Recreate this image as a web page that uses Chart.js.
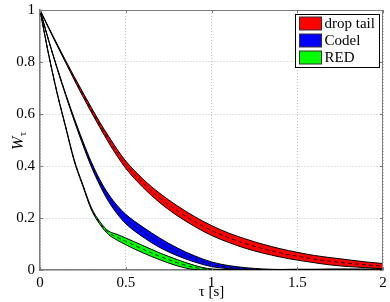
<!DOCTYPE html>
<html>
<head>
<meta charset="utf-8">
<script src="https://cdn.jsdelivr.net/npm/chart.js@4.4.1/dist/chart.umd.min.js"></script>
<style>
  html, body { margin: 0; padding: 0; background: #fff; }
  #wrap { width: 390px; height: 302px; position: relative; }
</style>
</head>
<body>
<div id="wrap"><canvas id="fig" width="390" height="302"></canvas></div>
<script>
// tau [s] 샘플 위치
const tau = [0, 0.05, 0.1, 0.15, 0.2, 0.25, 0.3, 0.35, 0.4, 0.45, 0.5, 0.6, 0.7, 0.8, 0.9, 1.0, 1.1, 1.2, 1.3, 1.4, 1.5, 1.6, 1.7, 1.8, 1.9, 2.0];

// drop tail
const dropTailUpper = [1, 0.934, 0.869, 0.805, 0.743, 0.683, 0.624, 0.567, 0.514, 0.464, 0.419, 0.35, 0.294, 0.247, 0.206, 0.171, 0.142, 0.119, 0.099, 0.082, 0.068, 0.056, 0.047, 0.039, 0.031, 0.025];
const dropTailMean  = [1, 0.932, 0.866, 0.801, 0.737, 0.675, 0.615, 0.557, 0.502, 0.451, 0.405, 0.334, 0.276, 0.228, 0.187, 0.152, 0.124, 0.101, 0.082, 0.066, 0.053, 0.042, 0.033, 0.026, 0.02, 0.015];
const dropTailLower = [1, 0.93, 0.863, 0.797, 0.731, 0.667, 0.606, 0.547, 0.49, 0.438, 0.391, 0.318, 0.258, 0.209, 0.168, 0.133, 0.106, 0.083, 0.065, 0.05, 0.038, 0.028, 0.019, 0.013, 0.009, 0.005];

// Codel
const codelUpper = [1, 0.885, 0.778, 0.677, 0.583, 0.495, 0.414, 0.346, 0.291, 0.248, 0.214, 0.165, 0.122, 0.085, 0.055, 0.031, 0.017, 0.009, 0.004, 0.002, 0.001, 0.001, 0, 0, 0, 0];
const codelMean  = [1, 0.884, 0.776, 0.674, 0.578, 0.488, 0.405, 0.335, 0.277, 0.232, 0.196, 0.146, 0.104, 0.07, 0.043, 0.022, 0.011, 0.005, 0.002, 0.001, 0, 0, 0, 0, 0, 0];
const codelLower = [1, 0.883, 0.774, 0.671, 0.573, 0.481, 0.396, 0.324, 0.263, 0.216, 0.178, 0.127, 0.086, 0.055, 0.031, 0.013, 0.005, 0.001, 0, 0, 0, 0, 0, 0, 0, 0];

// RED
const redUpper = [1, 0.831, 0.682, 0.551, 0.423, 0.328, 0.239, 0.185, 0.15, 0.137, 0.123, 0.094, 0.065, 0.04, 0.018, 0.004, 0.002, 0.001, 0.001, 0.002, 0.003, 0.003, 0.004, 0.004, 0.004, 0.004];
const redMean  = [1, 0.83, 0.68, 0.549, 0.42, 0.325, 0.235, 0.18, 0.143, 0.126, 0.11, 0.08, 0.052, 0.028, 0.01, 0.002, 0.001, 0, 0, 0.001, 0.001, 0.001, 0.002, 0.002, 0.002, 0.002];
const redLower = [1, 0.829, 0.678, 0.547, 0.417, 0.322, 0.231, 0.175, 0.136, 0.115, 0.097, 0.066, 0.039, 0.016, 0.002, 0, 0, 0, 0, 0, 0, 0, 0, 0, 0, 0];

const seriesNames = ['drop tail', 'Codel', 'RED'];
const seriesColors = ['#ff0000', '#0000ff', '#00ff00'];
const xTicks = [0, 0.5, 1, 1.5, 2];
const yTicks = [0, 0.2, 0.4, 0.6, 0.8, 1];

const serif = "'Liberation Serif', 'DejaVu Serif', serif";

function pts(ys) {
    return tau.map((t, i) => ({ x: t, y: ys[i] }));
}

// 밴드 하나 = 위/아래 경계선 + 점선 평균
function band(upper, mean, lower, color) {
    const common = { pointRadius: 0, borderColor: '#000', cubicInterpolationMode: 'monotone' };
    return [
        { ...common, data: pts(upper), borderWidth: 1, backgroundColor: color, fill: '+1', order: 3 },
        { ...common, data: pts(lower), borderWidth: 1, fill: false, order: 2 },
        { ...common, data: pts(mean), borderWidth: 0.9, borderDash: [4, 3], fill: false, order: 1 }
    ];
}

// 박스 테두리, 안쪽 눈금, 범례, 축 제목
const frame = {
    id: 'frame',
    afterDraw(chart) {
        const { ctx, chartArea: a, scales } = chart;
        ctx.save();
        ctx.strokeStyle = '#7a7a7a';
        ctx.lineWidth = 1;
        ctx.beginPath();
        ctx.moveTo(a.left, a.top + 0.5);
        ctx.lineTo(a.right - 0.5, a.top + 0.5);
        ctx.lineTo(a.right - 0.5, a.bottom);
        ctx.stroke();
        ctx.beginPath();
        xTicks.forEach(v => {
            const x = Math.round(scales.x.getPixelForValue(v)) + 0.5;
            ctx.moveTo(x, a.bottom); ctx.lineTo(x, a.bottom - 3);
            ctx.moveTo(x, a.top); ctx.lineTo(x, a.top + 3);
        });
        yTicks.forEach(v => {
            const y = Math.round(scales.y.getPixelForValue(v)) + 0.5;
            ctx.moveTo(a.left, y); ctx.lineTo(a.left + 3, y);
            ctx.moveTo(a.right, y); ctx.lineTo(a.right - 3, y);
        });
        ctx.stroke();

        // 범례
        const bx = a.right - 87.5, by = a.top + 4.5, bw = 84, bh = 53;
        ctx.fillStyle = '#fff';
        ctx.fillRect(bx, by, bw, bh);
        ctx.strokeStyle = '#000';
        ctx.strokeRect(bx, by, bw, bh);
        ctx.font = '15px ' + serif;
        ctx.textBaseline = 'middle';
        seriesNames.forEach((name, i) => {
            const ry = by + 2.5 + i * 17;
            ctx.fillStyle = seriesColors[i];
            ctx.fillRect(bx + 4, ry, 22, 13);
            ctx.strokeStyle = '#333';
            ctx.strokeRect(bx + 4, ry, 22, 13);
            ctx.fillStyle = '#000';
            ctx.fillText(name, bx + 29, ry + 7);
        });

        // x축 제목
        ctx.textAlign = 'center';
        ctx.textBaseline = 'middle';
        ctx.font = '15px ' + serif;
        ctx.fillText('τ [s]', (a.left + a.right) / 2, 292);

        // y축 제목 W_tau
        ctx.textAlign = 'left';
        ctx.translate(18, (a.top + a.bottom) / 2 + 2);
        ctx.rotate(-Math.PI / 2);
        ctx.textBaseline = 'alphabetic';
        ctx.font = 'italic 16px ' + serif;
        ctx.fillText('W', -8, 5);
        ctx.font = '10px ' + serif;
        ctx.fillText('τ', 6, 8);
        ctx.restore();
    }
};

const datasets = [
    ...band(dropTailUpper, dropTailMean, dropTailLower, seriesColors[0]),
    ...band(codelUpper, codelMean, codelLower, seriesColors[1]),
    ...band(redUpper, redMean, redLower, seriesColors[2])
];

const fmt = v => String(+Number(v).toFixed(2));

new Chart(document.getElementById('fig'), {
    type: 'line',
    data: { datasets: datasets },
    plugins: [frame],
    options: {
        responsive: false,
        animation: false,
        devicePixelRatio: 1,
        layout: { padding: { top: 10, right: 7, bottom: 0, left: 0 } },
        plugins: { legend: { display: false }, tooltip: { enabled: false } },
        scales: {
            x: {
                type: 'linear', min: 0, max: 2,
                afterBuildTicks: s => { s.ticks = xTicks.map(v => ({ value: v })); },
                afterFit: s => { s.height = 32; s.paddingLeft = 0; s.paddingRight = 0; },
                ticks: { callback: fmt, color: '#000', padding: 4, maxRotation: 0, font: { family: serif, size: 15 } },
                grid: { color: '#c4c4c4', lineWidth: 1, drawTicks: false },
                border: { color: '#7a7a7a', width: 1.5, dash: [1, 2] }
            },
            y: {
                type: 'linear', min: 0, max: 1,
                afterBuildTicks: s => { s.ticks = yTicks.map(v => ({ value: v })); },
                afterFit: s => { s.width = 40; s.paddingTop = 0; s.paddingBottom = 0; },
                ticks: { callback: fmt, color: '#000', padding: 5, font: { family: serif, size: 15 } },
                grid: { color: '#c4c4c4', lineWidth: 1, drawTicks: false },
                border: { color: '#7a7a7a', width: 1.5, dash: [1, 2] }
            }
        }
    }
});
</script>
</body>
</html>
